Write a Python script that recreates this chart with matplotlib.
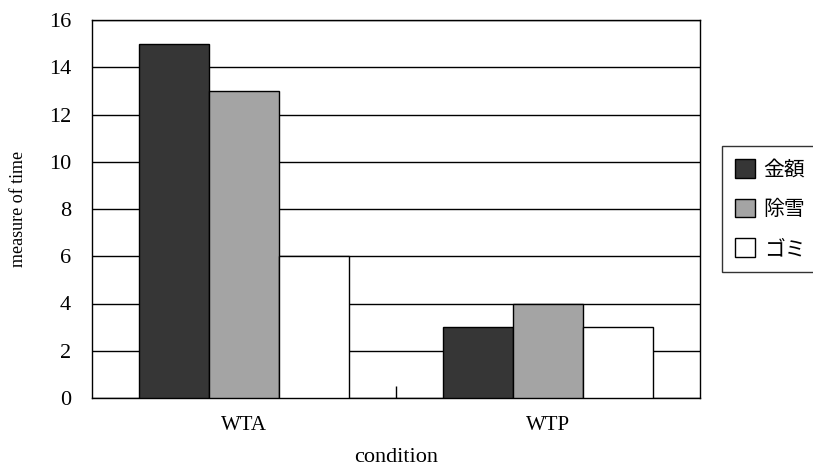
import matplotlib
matplotlib.use("Agg")
import matplotlib.pyplot as plt
import numpy as np

categories = ["WTA", "WTP"]
series_names = ["金額", "除雪", "ゴミ"]
kingaku = [15, 3]
josetsu = [13, 4]
gomi = [6, 3]
yticks = [0, 2, 4, 6, 8, 10, 12, 14, 16]

colors = ["#363636", "#a4a4a4", "#ffffff"]
serif = ["Liberation Serif", "DejaVu Serif"]
cjk = ["Noto Sans CJK JP", "DejaVu Sans"]

fig = plt.figure(figsize=(8.13, 4.71), dpi=100)
ax = fig.add_axes([92/813, 1-398/471, (700-92)/813, (398-20)/471])

x = np.arange(len(categories))
w = 0.23
for i, (vals, name) in enumerate(zip([kingaku, josetsu, gomi], series_names)):
    ax.bar(x + (i-1)*w, vals, w, color=colors[i], edgecolor="black",
           linewidth=1.0, label=name, zorder=3)

ax.set_xlim(-0.5, 1.5)
ax.set_ylim(0, 16)
ax.set_yticks(yticks)
ax.yaxis.grid(True, color="black", linewidth=1.0, zorder=0)
ax.set_axisbelow(True)
for s in ["left", "bottom", "top", "right"]:
    ax.spines[s].set_linewidth(1.0)

ax.set_xticks(x)
ax.set_xticklabels(categories, fontfamily=serif, fontsize=15)
ax.tick_params(axis="x", length=0, pad=13)
ax.set_xticks([0.5], minor=True)
ax.tick_params(axis="x", which="minor", direction="in", length=9, width=1.0)
ax.tick_params(axis="y", length=0, pad=15, labelsize=16)
for lab in ax.get_yticklabels():
    lab.set_fontfamily(serif)

ax.set_xlabel("condition", fontfamily=serif, fontsize=16, labelpad=9)
ax.set_ylabel("measure of time", fontfamily=serif, fontsize=13, labelpad=16)

leg = fig.legend(loc="upper left", bbox_to_anchor=(722/813, 1-146/471),
                 frameon=True, fancybox=False, edgecolor="black",
                 prop={"family": cjk, "size": 15}, labelspacing=0.85,
                 handlelength=1.0, handleheight=1.0, handletextpad=0.4,
                 borderpad=0.6, borderaxespad=0)
leg.get_frame().set_linewidth(1.0)

fig.savefig("out.png", dpi=100)
